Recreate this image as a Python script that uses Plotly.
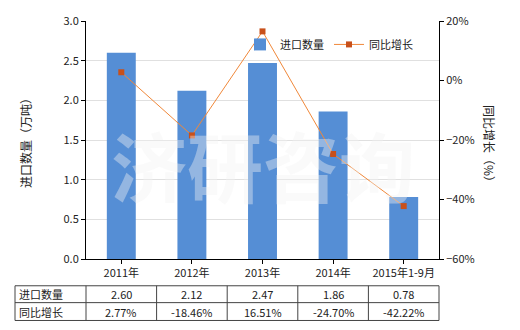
import plotly.graph_objects as go

categories = ["2011年", "2012年", "2013年", "2014年", "2015年1-9月"]
import_qty = [2.60, 2.12, 2.47, 1.86, 0.78]
yoy_growth = [2.77, -18.46, 16.51, -24.70, -42.22]
qty_labels = ["2.60", "2.12", "2.47", "1.86", "0.78"]
growth_labels = ["2.77%", "-18.46%", "16.51%", "-24.70%", "-42.22%"]
row_names = ["进口数量", "同比增长"]

FONT = "Noto Sans CJK SC, Microsoft YaHei, sans-serif"
W, H = 520, 330
ML, MR, MT, MB = 86, 81, 19, 71
PW, PH = W - ML - MR, H - MT - MB

def px_x(x):
    return (x - ML) / PW

def px_y(y):
    return (H - MB - y) / PH

fig = go.Figure()
fig.add_trace(go.Bar(
    x=categories, y=import_qty, name="进口数量",
    marker=dict(color="#558ed5", line=dict(width=0)), width=0.41,
))
fig.add_trace(go.Scatter(
    x=categories, y=yoy_growth, name="同比增长", yaxis="y2",
    mode="lines+markers",
    line=dict(color="#f0883a", width=1),
    marker=dict(symbol="square", size=6, color="#c8501a"),
))

shapes = []
annotations = []
top, mid, bot = px_y(286), px_y(303), px_y(321)
left = px_x(15)
edges = [left] + [i / 5 for i in range(6)]
lc = "#444444"
for yv in (top, mid, bot):
    shapes.append(dict(type="line", xref="paper", yref="paper", x0=left, x1=1.0,
                       y0=yv, y1=yv, line=dict(color=lc, width=1)))
for xv in edges:
    shapes.append(dict(type="line", xref="paper", yref="paper", x0=xv, x1=xv,
                       y0=bot, y1=top, line=dict(color=lc, width=1)))
rows = [qty_labels, growth_labels]
ycent = [(top + mid) / 2, (mid + bot) / 2]
for r, (name, labels) in enumerate(zip(row_names, rows)):
    annotations.append(dict(xref="paper", yref="paper", x=left + 0.005, y=ycent[r],
                            text=name, showarrow=False, xanchor="left", yanchor="middle",
                            font=dict(size=11, color="#222", family=FONT)))
    for i, lab in enumerate(labels):
        annotations.append(dict(xref="paper", yref="paper", x=(i + 0.5) / 5, y=ycent[r],
                                text=lab, showarrow=False, xanchor="center", yanchor="middle",
                                font=dict(size=11, color="#222", family=FONT)))

annotations.append(dict(xref="paper", yref="paper", x=px_x(25), y=px_y(139),
                        text="进口数量（万吨）", textangle=-90, showarrow=False,
                        xanchor="center", yanchor="middle",
                        font=dict(size=12, color="#222", family=FONT)))
annotations.append(dict(xref="paper", yref="paper", x=px_x(489), y=px_y(145),
                        text="同比增长（%）", textangle=90, showarrow=False,
                        xanchor="center", yanchor="middle",
                        font=dict(size=12, color="#222", family=FONT)))
annotations.append(dict(xref="paper", yref="paper", x=0.5, y=px_y(163),
                        text="<b>济研咨询</b>", showarrow=False, xanchor="center", yanchor="middle",
                        font=dict(size=76, color="rgba(242,242,242,0.4)", family=FONT)))

fig.update_layout(
    width=W, height=H,
    margin=dict(l=ML, r=MR, t=MT, b=MB),
    paper_bgcolor="white", plot_bgcolor="white",
    font=dict(family=FONT, size=11, color="#222"),
    bargap=0.59,
    showlegend=True,
    legend=dict(orientation="h", x=px_x(240), y=px_y(28), xanchor="left", yanchor="top",
                bgcolor="rgba(0,0,0,0)", font=dict(size=11, family=FONT),
                itemwidth=30, tracegroupgap=0),
    xaxis=dict(showline=True, linecolor="black", linewidth=1, ticks="outside",
               ticklen=4, tickcolor="black", showgrid=False, range=[-0.5, 4.5],
               tickfont=dict(size=11)),
    yaxis=dict(range=[0, 3], dtick=0.5, tickformat=".1f", showline=True, linecolor="black",
               linewidth=1, ticks="outside", ticklen=4, tickcolor="black",
               showgrid=True, gridcolor="#e0e0e0", zeroline=False, tickfont=dict(size=11)),
    yaxis2=dict(range=[-60, 20], dtick=20, ticksuffix="%", overlaying="y", side="right",
                showline=True, linecolor="black", linewidth=1, ticks="outside", ticklen=4,
                tickcolor="black", showgrid=False, zeroline=False, tickfont=dict(size=11)),
    shapes=shapes,
    annotations=annotations,
)

fig.write_html("out.html")
